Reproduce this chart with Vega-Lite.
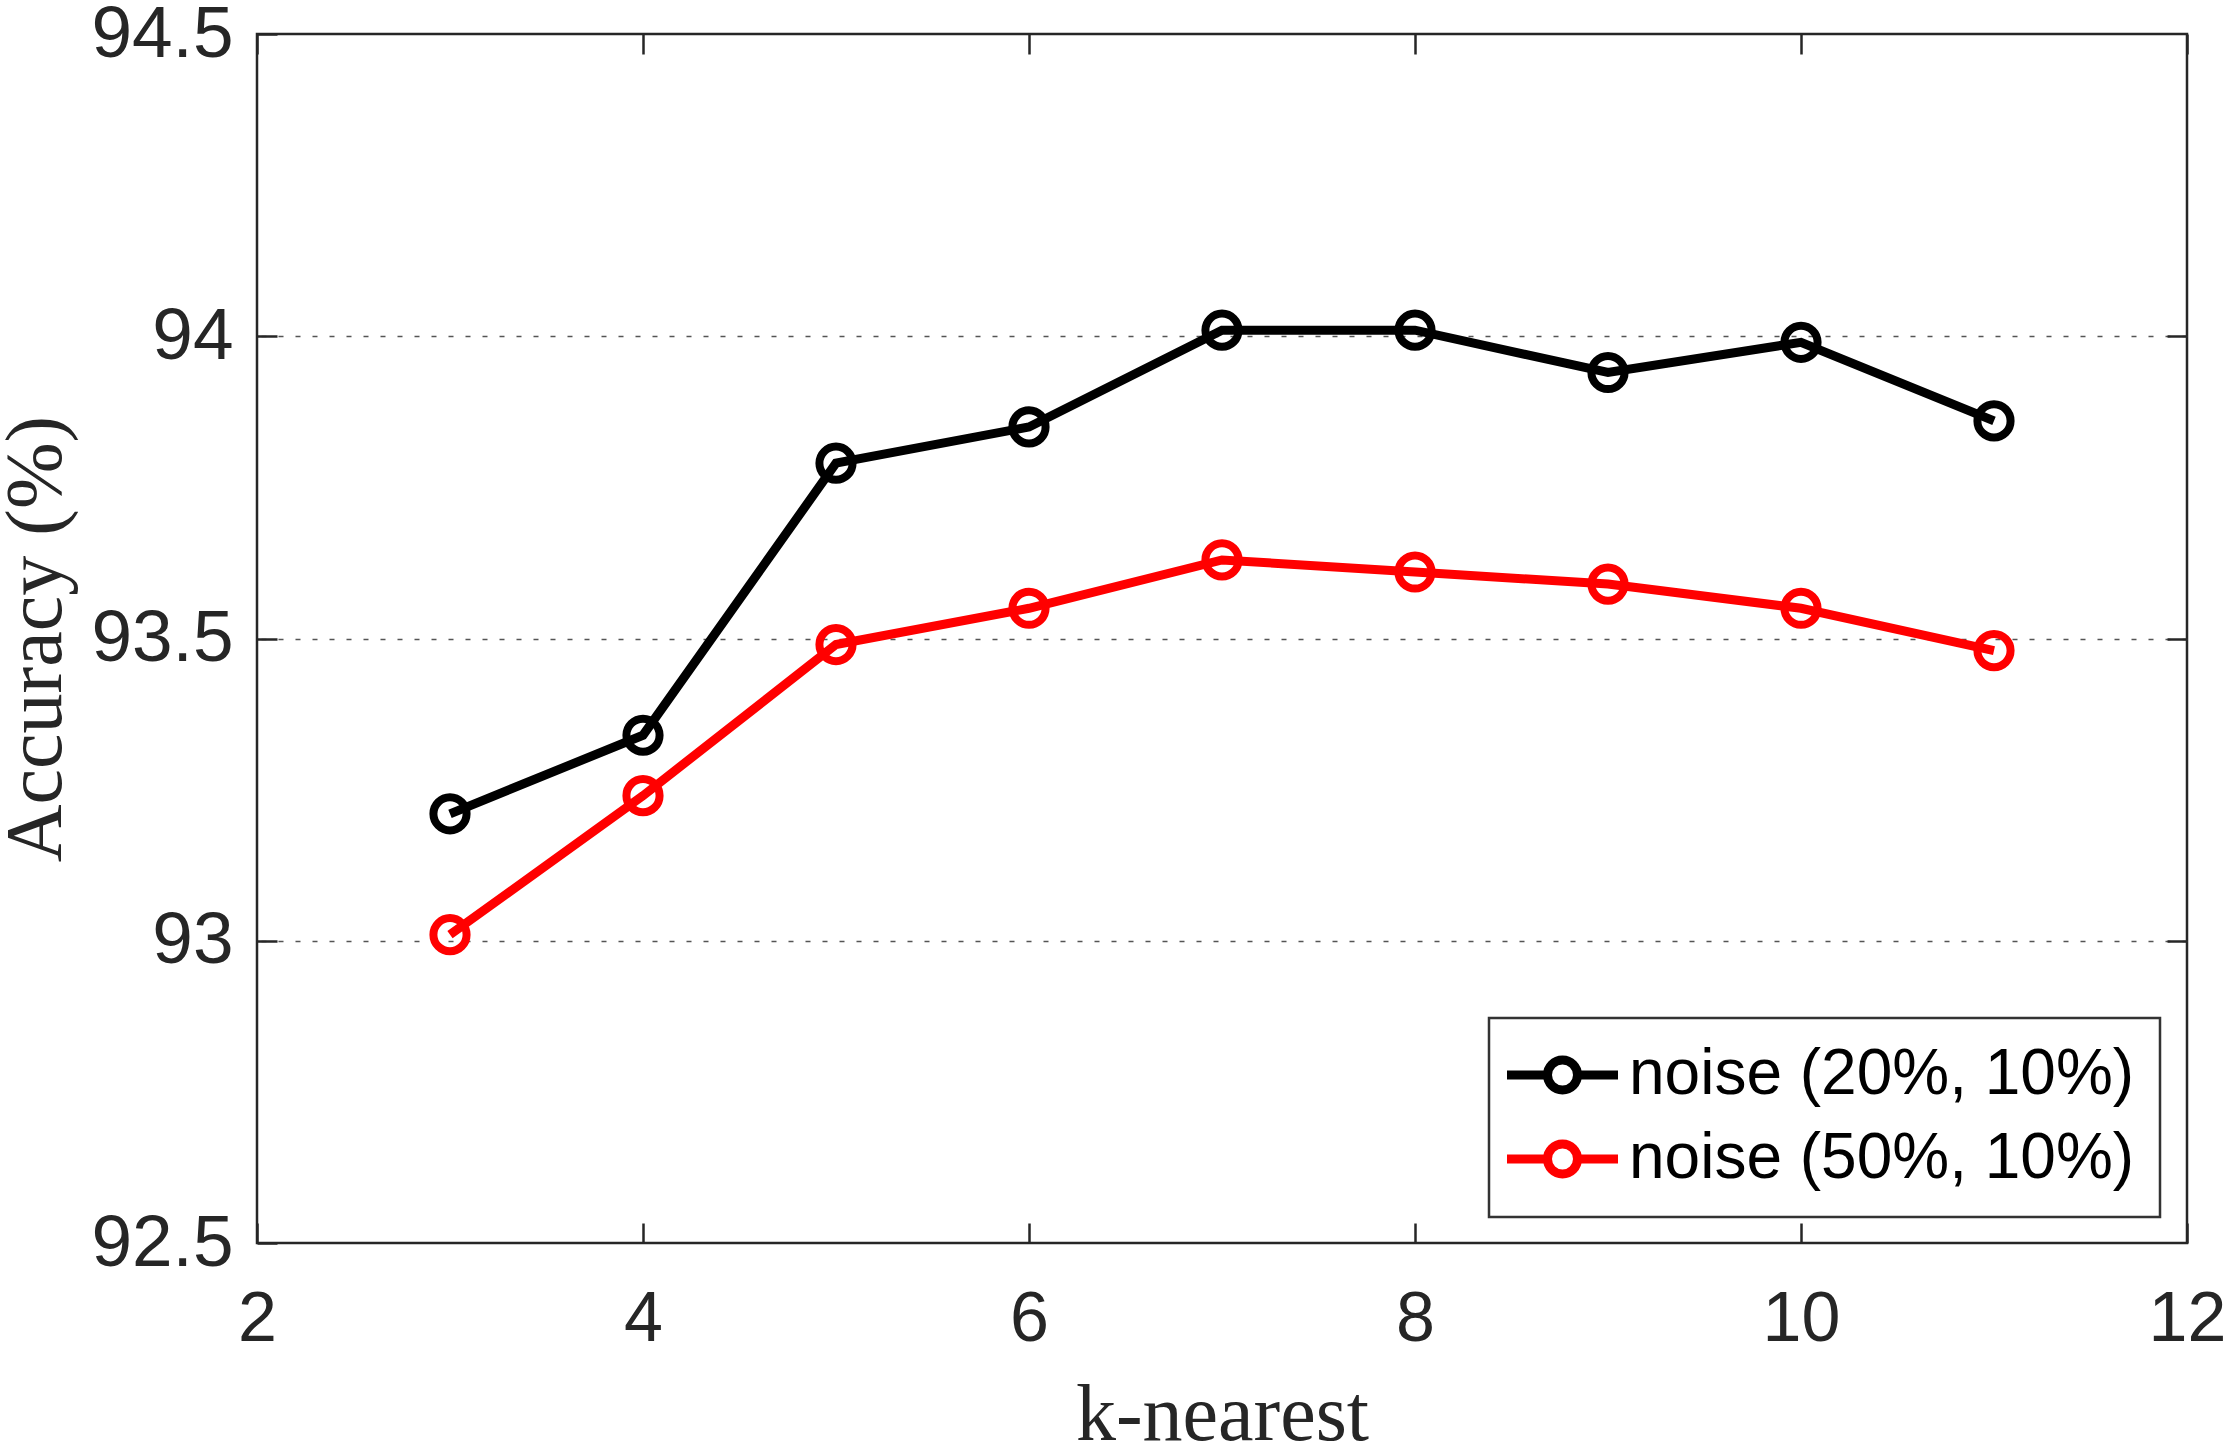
{
  "$schema": "https://vega.github.io/schema/vega-lite/v6.json",
  "width": 1930,
  "height": 1209,
  "autosize": {"type": "none"},
  "padding": {"left": 257, "top": 34, "right": 39, "bottom": 206},
  "background": "white",
  "config": {
    "view": {"stroke": "#262626", "strokeWidth": 2.5},
    "axis": {
      "domain": false,
      "labelFont": "Liberation Sans",
      "labelFontSize": 72,
      "labelColor": "#262626",
      "titleFont": "Liberation Serif",
      "titleFontSize": 80,
      "titleFontWeight": "normal",
      "titleColor": "#262626",
      "tickColor": "#262626",
      "tickWidth": 2.5,
      "tickSize": -20,
      "gridColor": "#555555",
      "gridWidth": 1.5,
      "gridDash": [5, 12]
    }
  },
  "data": {
    "values": [
      {"k": 3, "acc": 93.21, "series": "noise (20%, 10%)"},
      {"k": 4, "acc": 93.34, "series": "noise (20%, 10%)"},
      {"k": 5, "acc": 93.79, "series": "noise (20%, 10%)"},
      {"k": 6, "acc": 93.85, "series": "noise (20%, 10%)"},
      {"k": 7, "acc": 94.01, "series": "noise (20%, 10%)"},
      {"k": 8, "acc": 94.01, "series": "noise (20%, 10%)"},
      {"k": 9, "acc": 93.94, "series": "noise (20%, 10%)"},
      {"k": 10, "acc": 93.99, "series": "noise (20%, 10%)"},
      {"k": 11, "acc": 93.86, "series": "noise (20%, 10%)"},
      {"k": 3, "acc": 93.01, "series": "noise (50%, 10%)"},
      {"k": 4, "acc": 93.24, "series": "noise (50%, 10%)"},
      {"k": 5, "acc": 93.49, "series": "noise (50%, 10%)"},
      {"k": 6, "acc": 93.55, "series": "noise (50%, 10%)"},
      {"k": 7, "acc": 93.63, "series": "noise (50%, 10%)"},
      {"k": 8, "acc": 93.61, "series": "noise (50%, 10%)"},
      {"k": 9, "acc": 93.59, "series": "noise (50%, 10%)"},
      {"k": 10, "acc": 93.55, "series": "noise (50%, 10%)"},
      {"k": 11, "acc": 93.48, "series": "noise (50%, 10%)"}
    ]
  },
  "layer": [
    {
      "mark": {"type": "line", "strokeWidth": 9},
      "encoding": {
        "x": {
          "field": "k", "type": "quantitative",
          "scale": {"domain": [2, 12], "nice": false, "zero": false},
          "axis": {"orient": "bottom", "values": [2, 4, 6, 8, 10, 12], "grid": false, "title": "k-nearest", "labelPadding": 62, "titlePadding": 22, "labelFlush": false, "labelFontSize": 70}
        },
        "y": {
          "field": "acc", "type": "quantitative",
          "scale": {"domain": [92.5, 94.5], "nice": false, "zero": false},
          "axis": {"orient": "left", "values": [92.5, 93, 93.5, 94, 94.5], "format": "~f", "grid": false, "title": "Accuracy (%)", "labelPadding": 44, "titlePadding": 13, "labelFlush": false, "labelFontSize": 73}
        },
        "color": {
          "field": "series", "type": "nominal",
          "scale": {"domain": ["noise (20%, 10%)", "noise (50%, 10%)"], "range": ["#000000", "#ff0000"]},
          "legend": {
            "title": null,
            "orient": "none",
            "legendX": 1232,
            "legendY": 984,
            "strokeColor": "#333333",
            "fillColor": "white",
            "padding": 25,
            "symbolType": "M-1.56,0H0.06M1.26,0H2.88M0.06,0A0.6,0.6,0,1,0,1.26,0A0.6,0.6,0,1,0,0.06,0",
            "symbolSize": 2500,
            "symbolStrokeWidth": 9,
            "symbolFillColor": "transparent",
            "labelFont": "Liberation Sans",
            "labelFontSize": 64,
            "labelColor": "#000000",
            "labelOffset": 51,
            "labelLimit": 1000,
            "rowPadding": 18,
            "encode": {"legend": {"update": {"strokeWidth": {"value": 2.5}}}}
          }
        }
      }
    },
    {
      "mark": {"type": "point", "shape": "circle", "filled": false, "size": 1100, "strokeWidth": 8, "opacity": 1},
      "encoding": {
        "x": {"field": "k", "type": "quantitative", "axis": {"orient": "top", "values": [2, 4, 6, 8, 10, 12], "labels": false, "title": null, "grid": false}},
        "y": {"field": "acc", "type": "quantitative", "axis": {"orient": "right", "values": [93, 93.5, 94], "labels": false, "title": null, "grid": true}},
        "color": {"field": "series", "type": "nominal"}
      }
    }
  ],
  "resolve": {"axis": {"x": "independent", "y": "independent"}}
}
